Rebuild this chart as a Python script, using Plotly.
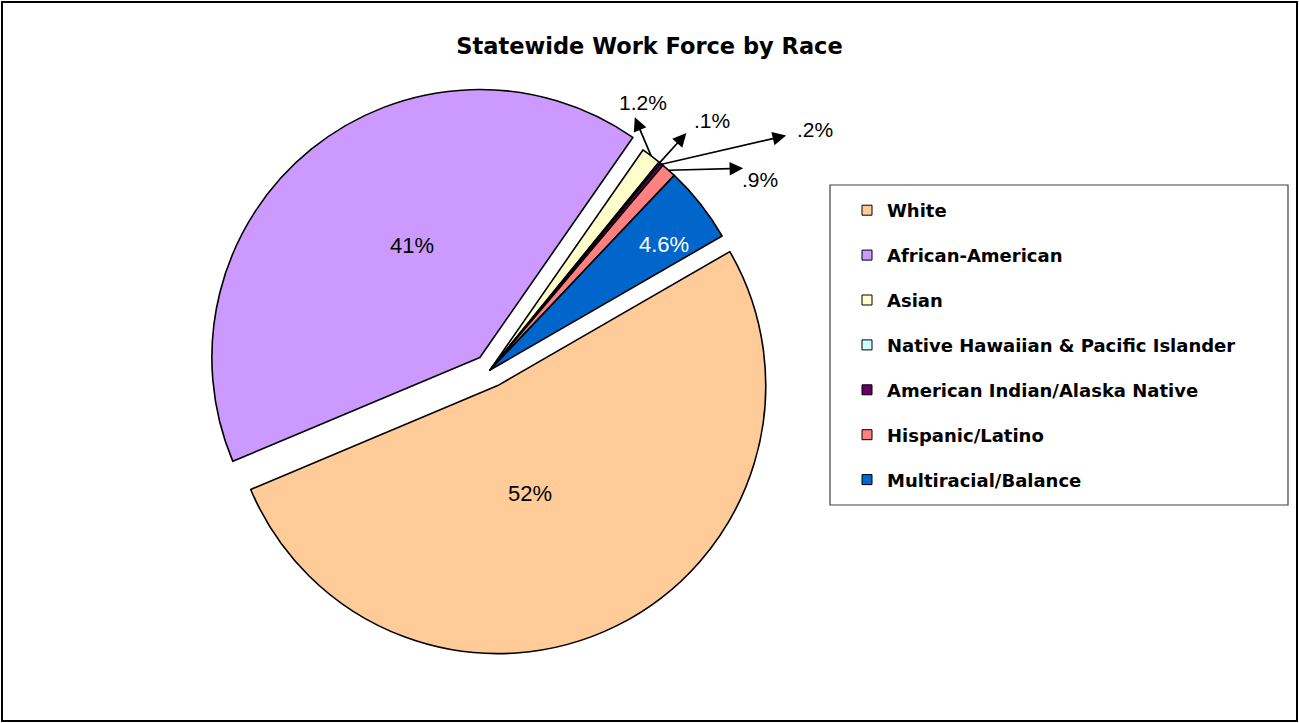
import math
import plotly.graph_objects as go

# ---------------- data ----------------
categories = [
    "White",
    "African-American",
    "Asian",
    "Native Hawaiian & Pacific Islander",
    "American Indian/Alaska Native",
    "Hispanic/Latino",
    "Multiracial/Balance",
]
shares = [52.0, 41.0, 1.2, 0.1, 0.2, 0.9, 4.6]
share_labels = ["52%", "41%", "1.2%", ".1%", ".2%", ".9%", "4.6%"]
title_text = "Statewide Work Force by Race"

# ---------------- style ----------------
W, H = 1299, 723
colors = ["#FFCC99", "#CC99FF", "#FFFFCC", "#CCFFFF", "#660066", "#FF8080", "#0066CC"]
pulls = [0.065, 0.06, 0, 0, 0, 0, 0]
label_font_colors = ["black", "black", "black", "black", "black", "black", "white"]
rotation = 60
# pie geometry in pixels (centre and radius)
CX, CY, R = 490.0, 370.0, 268.0
# labels inside slices: index -> (angle offset from slice mid, radius fraction)
inside_labels = {0: (8.5, 0.485), 1: (6.8, 0.547), 6: (2.5, 0.80)}
# callouts for the thin slices: index -> (arrow tip dx, dy, label dx, dy) in px from slice edge
callouts = {
    2: (-17, -40, -8, -53),
    3: (28, -31, 52, -42),
    4: (126, -29, 153, -35),
    5: (76, -2, 91, 9),
}

half = R * (1 + max(pulls))
dom_x = [(CX - half) / W, (CX + half) / W]
dom_y = [1 - (CY + half) / H, 1 - (CY - half) / H]

fig = go.Figure()
fig.add_trace(go.Pie(
    labels=categories,
    values=shares,
    textinfo="none",
    marker=dict(colors=colors, line=dict(color="black", width=1.6)),
    pull=pulls,
    sort=False,
    direction="clockwise",
    rotation=rotation,
    domain=dict(x=dom_x, y=dom_y),
    showlegend=False,
    hoverinfo="label+percent",
))

# legend entries
for cat, col in zip(categories, colors):
    fig.add_trace(go.Scatter(
        x=[None], y=[None], mode="markers", name=cat, legendgroup=cat,
        marker=dict(symbol="square", size=10, color=col, line=dict(color="black", width=1)),
        showlegend=True, hoverinfo="skip",
    ))

# labels and callouts, positioned from the slice angles
total = sum(shares)
annotations = []
cum = 0.0
for i, v in enumerate(shares):
    mid = rotation + 360.0 * (cum + v / 2) / total
    cum += v
    if i in inside_labels:
        dang, rf = inside_labels[i]
        a = math.radians(mid + dang)
        lx = CX + rf * R * math.sin(a)
        ly = CY - rf * R * math.cos(a)
        annotations.append(dict(
            x=lx / W, y=1 - ly / H, xref="paper", yref="paper",
            xanchor="center", yanchor="middle", text=share_labels[i], showarrow=False,
            font=dict(family="Liberation Sans", size=22, color=label_font_colors[i]),
        ))
    if i in callouts:
        a = math.radians(mid)
        ex = CX + R * math.sin(a)
        ey = CY - R * math.cos(a)
        tdx, tdy, ldx, ldy = callouts[i]
        annotations.append(dict(
            x=ex / W, y=1 - ey / H, xref="paper", yref="paper",
            ax=tdx, ay=tdy, text="", showarrow=True, arrowside="start",
            startarrowhead=2, startarrowsize=1.6, arrowwidth=1.7,
            arrowcolor="black", startstandoff=0, standoff=0,
        ))
        annotations.append(dict(
            x=ex / W, y=1 - ey / H, xref="paper", yref="paper",
            xanchor="center", yanchor="middle",
            xshift=ldx, yshift=-ldy, text=share_labels[i], showarrow=False,
            font=dict(family="Liberation Sans", size=21, color=label_font_colors[i]),
        ))

shapes = [
    dict(type="rect", xref="paper", yref="paper",
         x0=2 / W, x1=1297 / W, y0=1 - 721 / H, y1=1 - 2 / H,
         line=dict(color="black", width=2), fillcolor="rgba(0,0,0,0)"),
    dict(type="rect", xref="paper", yref="paper",
         x0=830 / W, x1=1288 / W, y0=1 - 505 / H, y1=1 - 185 / H,
         line=dict(color="#404040", width=1.2), fillcolor="rgba(0,0,0,0)"),
]

fig.update_layout(
    width=W, height=H,
    margin=dict(l=0, r=0, t=0, b=0),
    paper_bgcolor="white", plot_bgcolor="white",
    xaxis=dict(visible=False), yaxis=dict(visible=False),
    title=dict(text=title_text, x=0.5, xanchor="center", y=1 - 46 / H, yanchor="middle",
               font=dict(family="DejaVu Sans", size=22.5, color="black", weight="bold")),
    legend=dict(x=847 / W, y=1 - 192 / H, xanchor="left", yanchor="top",
                traceorder="grouped", tracegroupgap=18.5, borderwidth=0,
                bgcolor="rgba(0,0,0,0)",
                font=dict(family="DejaVu Sans", size=18, color="black", weight="bold")),
    annotations=annotations,
    shapes=shapes,
)

fig.write_html("out.html", config={"displayModeBar": False},
               post_script="document.body.style.margin='0';")
